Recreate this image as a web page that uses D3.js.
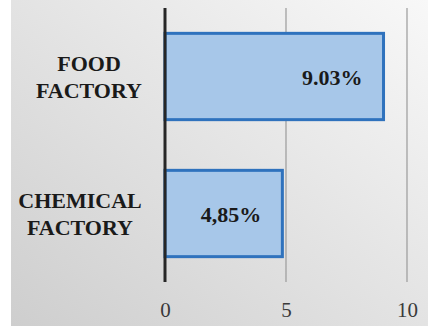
<!DOCTYPE html>
<html>
<head>
<meta charset="utf-8">
<script src="https://cdn.jsdelivr.net/npm/d3@7"></script>
</head>
<body style="margin:0; background:#fff">
<svg></svg>
<script>
  const categories = ["FOOD FACTORY", "CHEMICAL FACTORY"];
  const values = [9.03, 4.85];
  const valueLabels = ["9.03%", "4,85%"];
  const tickValues = [0, 5, 10];

  const width = 428;
  const height = 328;
  const serif = "Times New Roman";

  const svg = d3.select("svg")
      .attr("width", width)
      .attr("height", height);

  const grad = svg.append("defs").append("linearGradient")
      .attr("id", "bggrad")
      .attr("x1", "1").attr("y1", "0")
      .attr("x2", "0").attr("y2", "1");
  grad.append("stop").attr("offset", "0%").attr("stop-color", "#f8f8f8");
  grad.append("stop").attr("offset", "100%").attr("stop-color", "#cecece");

  svg.append("rect")
      .attr("x", 11).attr("y", 0)
      .attr("width", width - 11).attr("height", 326)
      .attr("fill", "url(#bggrad)");

  const xScale = d3.scaleLinear()
      .domain([0, 10])
      .range([165, 407]);

  const yScale = d3.scaleBand()
      .domain(categories)
      .range([8, 282])
      .paddingInner(0.37)
      .paddingOuter(0.185);

  // gridlines
  svg.selectAll("line.grid")
      .data(tickValues.slice(1))
      .enter()
      .append("line")
      .attr("class", "grid")
      .attr("x1", d => xScale(d))
      .attr("x2", d => xScale(d))
      .attr("y1", 8)
      .attr("y2", 282)
      .attr("stroke", "#9a9a9a")
      .attr("stroke-width", 1.2);

  // bars
  svg.selectAll("rect.bar")
      .data(values)
      .enter()
      .append("rect")
      .attr("class", "bar")
      .attr("x", xScale(0))
      .attr("y", (d, i) => yScale(categories[i]))
      .attr("width", d => xScale(d) - xScale(0))
      .attr("height", yScale.bandwidth())
      .attr("fill", "#a7c7e9")
      .attr("stroke", "#2f72bd")
      .attr("stroke-width", 3);

  // value axis (labels only)
  const xAxis = d3.axisBottom(xScale)
      .tickValues(tickValues)
      .tickSize(0)
      .tickPadding(0);

  const axisG = svg.append("g")
      .attr("transform", "translate(0, 302)")
      .call(xAxis)
      .attr("font-family", serif)
      .attr("font-size", 21);
  axisG.select(".domain").remove();
  axisG.selectAll("text")
      .attr("fill", "#3a3a3a");

  // category axis line
  svg.append("line")
      .attr("x1", xScale(0)).attr("x2", xScale(0))
      .attr("y1", 8).attr("y2", 282)
      .attr("stroke", "#262626")
      .attr("stroke-width", 3);

  // category labels, one text per line
  const labelX = [89, 80];
  const labelLines = categories.flatMap((c, i) =>
      c.split(" ").map((w, j) => ({ c, i, j, w })));

  svg.selectAll("text.cat")
      .data(labelLines)
      .enter()
      .append("text")
      .attr("class", "cat")
      .attr("x", d => labelX[d.i])
      .attr("y", d => yScale(d.c) + yScale.bandwidth() / 2 + (d.j === 0 ? -6 : 21))
      .attr("text-anchor", "middle")
      .attr("font-family", serif)
      .attr("font-weight", "bold")
      .attr("font-size", 22)
      .attr("fill", "#1a1a1a")
      .text(d => d.w);

  // value labels
  svg.selectAll("text.val")
      .data(values)
      .enter()
      .append("text")
      .attr("class", "val")
      .attr("x", d => xScale(d) - 21)
      .attr("y", (d, i) => yScale(categories[i]) + yScale.bandwidth() / 2 + 8)
      .attr("text-anchor", "end")
      .attr("font-family", serif)
      .attr("font-weight", "bold")
      .attr("font-size", 22)
      .attr("fill", "#1a1a1a")
      .text((d, i) => valueLabels[i]);
</script>
</body>
</html>
